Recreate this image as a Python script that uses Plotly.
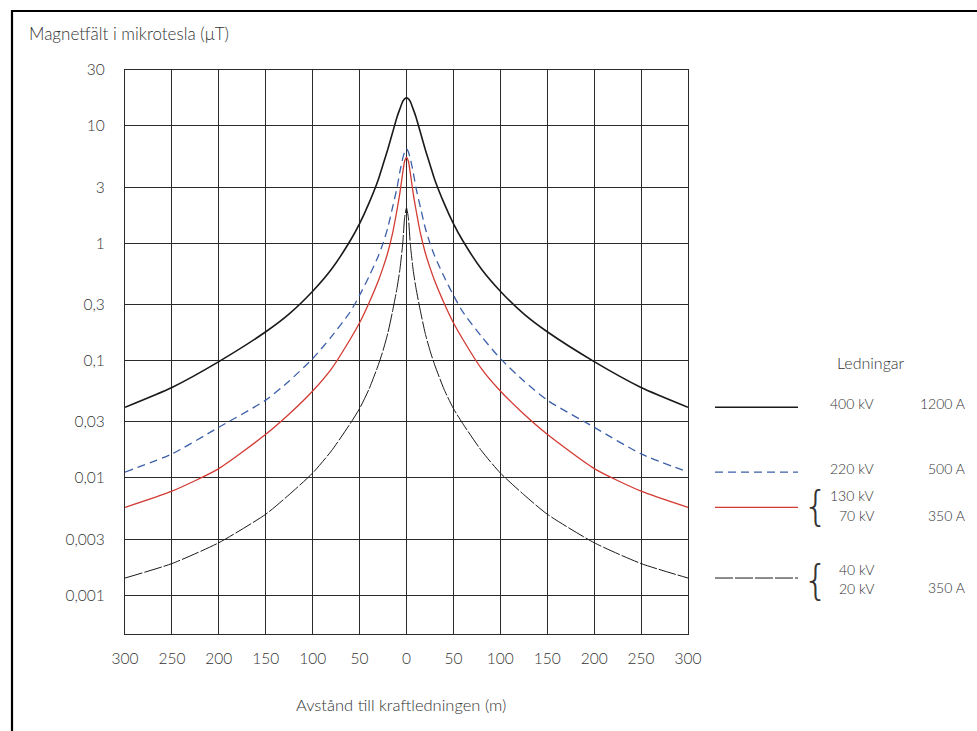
import plotly.graph_objects as go

# distance from the power line (m), negative = left side
dist = [-300, -250, -200, -150, -125, -100, -80, -60, -50, -40, -30, -25, -20, -15, -10, -7, -4, -2,
        0, 2, 4, 7, 10, 15, 20, 25, 30, 40, 50, 60, 80, 100, 125, 150, 200, 250, 300]

# magnetic field (µT)
kv400 = [0.040, 0.059, 0.098, 0.176, 0.25, 0.39, 0.6, 1.05, 1.47, 2.2, 3.5, 4.7, 6.3, 8.7, 12.0, 14.0, 16.2, 17.0,
         17.4, 17.0, 16.2, 14.0, 12.0, 8.7, 6.3, 4.7, 3.5, 2.2, 1.47, 1.05, 0.6, 0.39, 0.25, 0.176, 0.098, 0.059, 0.040]
kv220 = [0.0112, 0.016, 0.027, 0.046, 0.067, 0.104, 0.16, 0.26, 0.36, 0.52, 0.78, 1.0, 1.35, 2.0, 3.0, 4.1, 5.3, 6.0,
         6.4, 6.0, 5.3, 4.1, 3.0, 2.0, 1.35, 1.0, 0.78, 0.52, 0.36, 0.26, 0.16, 0.104, 0.067, 0.046, 0.027, 0.016, 0.0112]
kv130 = [0.0056, 0.0077, 0.012, 0.0235, 0.035, 0.055, 0.085, 0.152, 0.21, 0.31, 0.48, 0.62, 0.83, 1.2, 1.95, 2.7, 4.0, 5.0,
         5.4, 5.0, 4.0, 2.7, 1.95, 1.2, 0.83, 0.62, 0.48, 0.31, 0.21, 0.152, 0.085, 0.055, 0.035, 0.0235, 0.012, 0.0077, 0.0056]
kv40 = [0.0014, 0.00186, 0.0028, 0.0049, 0.0072, 0.011, 0.017, 0.029, 0.039, 0.057, 0.092, 0.122, 0.17, 0.26, 0.42, 0.6, 1.0, 1.65,
        2.0, 1.65, 1.0, 0.6, 0.42, 0.26, 0.17, 0.122, 0.092, 0.057, 0.039, 0.029, 0.017, 0.011, 0.0072, 0.0049, 0.0028, 0.00186, 0.0014]

x_tickvals = [-300, -250, -200, -150, -100, -50, 0, 50, 100, 150, 200, 250, 300]
x_ticktext = ["300", "250", "200", "150", "100", "50", "0", "50", "100", "150", "200", "250", "300"]
y_tickvals = [30, 10, 3, 1, 0.3, 0.1, 0.03, 0.01, 0.003, 0.001]
y_ticktext = ["30", "10", "3", "1", "0,3", "0,1", "0,03", "0,01", "0,003", "0,001"]

FONT = "Lato"
TXT = "#333333"

BLACK = "#1a1a1a"
BLUE = "#3c5fa8"
RED = "#d23a32"

styles = [
    (kv400, dict(color=BLACK, width=1.6)),
    (kv220, dict(color=BLUE, width=1.3, dash="8px,5px")),
    (kv130, dict(color=RED, width=1.3)),
    (kv40, dict(color=BLACK, width=1.0, dash="18px,2px")),
]

fig = go.Figure()
for vals, line in styles:
    fig.add_trace(go.Scatter(x=dist, y=vals, mode="lines", line=dict(shape="spline", smoothing=0.6, **line),
                             showlegend=False, hoverinfo="skip"))

L, R, T, B = 125, 289, 70, 97
W, H = 977, 731
pw, ph = W - L - R, H - T - B


def px(p):
    return (p - L) / pw


def py(p):
    return (H - B - p) / ph


shapes = []
# outer frame (left and top edges visible)
shapes.append(dict(type="line", xref="paper", yref="paper", x0=px(12), x1=px(12), y0=py(10), y1=py(740),
                   line=dict(color="black", width=2.2)))
shapes.append(dict(type="line", xref="paper", yref="paper", x0=px(11), x1=px(990), y0=py(11), y1=py(11),
                   line=dict(color="black", width=2.2)))
# legend line samples at the level of each curve's end
for vals, line in styles:
    shapes.append(dict(type="line", xref="paper", yref="y", x0=px(715), x1=px(798), y0=vals[-1], y1=vals[-1],
                       line=dict(line)))

ann = []


def text(t, x, y, anchor="left", size=14):
    ann.append(dict(text=t, xref="paper", yref="paper", x=px(x), y=py(y), xanchor=anchor, yanchor="middle",
                    showarrow=False, font=dict(family=FONT, size=size, color=TXT, weight=300)))


text("Magnetfält i mikrotesla (μT)", 27, 33, size=17)
text("Avstånd till kraftledningen (m)", 401, 705, anchor="center", size=16.5)
text("Ledningar", 871, 362, anchor="center", size=16)
text("400 kV", 876, 403, anchor="right")
text("1200 A", 967, 403, anchor="right")
text("220 kV", 876, 469, anchor="right")
text("500 A", 967, 469, anchor="right")
text("130 kV", 876, 495, anchor="right")
text("70 kV", 876, 515, anchor="right")
text("350 A", 967, 515, anchor="right")
text("40 kV", 876, 569, anchor="right")
text("20 kV", 876, 588, anchor="right")
text("350 A", 967, 587, anchor="right")
for yb in (506, 580):
    ann.append(dict(text="{", xref="paper", yref="paper", x=px(816), y=py(yb), xanchor="center", yanchor="middle",
                    showarrow=False, font=dict(family="DejaVu Sans", size=40, color=TXT, weight=200)))

tickfont = dict(family=FONT, size=15.5, color=TXT, weight=300)
fig.update_layout(
    width=W, height=H,
    margin=dict(l=L, r=R, t=T, b=B, autoexpand=False),
    paper_bgcolor="white", plot_bgcolor="white",
    shapes=shapes, annotations=ann,
    font=dict(family=FONT, size=14, color=TXT),
    xaxis=dict(range=[-300, 300], tickvals=x_tickvals, ticktext=x_ticktext, showgrid=True,
               gridcolor="#2a2a2a", gridwidth=1, showline=True, linecolor="#2a2a2a", linewidth=1.2,
               mirror=True, zeroline=False, ticks="", ticklabelstandoff=10, tickfont=tickfont),
    yaxis=dict(type="log", range=[-3.331, 1.4771], tickvals=y_tickvals, ticktext=y_ticktext, showgrid=True,
               gridcolor="#2a2a2a", gridwidth=1, showline=True, linecolor="#2a2a2a", linewidth=1.2,
               mirror=True, zeroline=False, ticks="", ticklabelstandoff=16, tickfont=tickfont),
)

fig.write_html("out.html", config={"displayModeBar": False},
               post_script="document.body.style.margin='0';document.body.style.overflow='hidden';")
